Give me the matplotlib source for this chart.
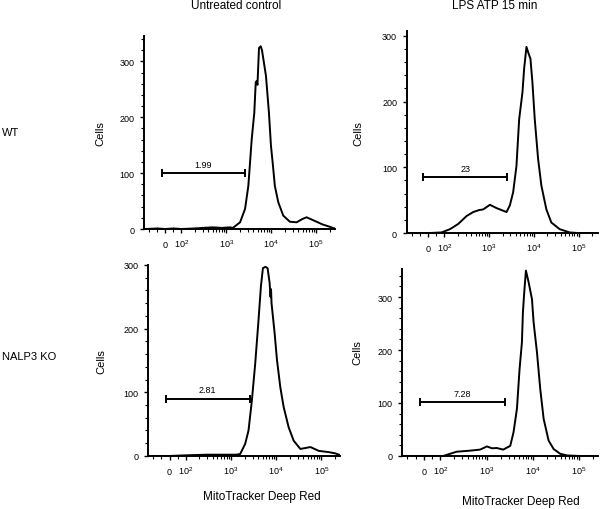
import numpy as np
import matplotlib
matplotlib.use("Agg")
import matplotlib.pyplot as plt
from matplotlib.ticker import FixedLocator, MultipleLocator

plt.rcParams['font.family'] = ['Liberation Sans', 'DejaVu Sans']
plt.rcParams['mathtext.fontset'] = 'custom'
plt.rcParams['mathtext.rm'] = 'Liberation Sans'

# MitoTracker Deep Red histograms (fluorescence, cell count)
wt_ctrl_x = [-120, -50, 0, 50, 100, 200, 300, 500, 800, 1200, 1400, 2030, 2620, 3100, 3690,
             4210, 4530, 4760, 4950, 5360, 5850, 6250, 7660, 8930, 9900, 10800, 12100,
             14400, 18600, 26200, 36900, 50000, 61500, 84900, 141600, 203000, 236000, 262000]
wt_ctrl_y = [0, 1, 0, 1, 0, 1, 2, 3, 2, 3, 2, 12, 36, 77, 161, 208, 262, 265, 258, 324,
             327, 320, 274, 208, 149, 119, 77, 48, 24, 13, 12, 18, 21, 16, 8, 4, 2, 1]

wt_lps_x = [-120, 0, 84, 135, 206, 316, 443, 600, 740, 900, 1042, 1466, 2444, 2900, 3436,
            4074, 4680, 5546, 6040, 6808, 7413, 8356, 9247, 10420, 12360, 14650, 18920,
            24430, 37410, 62500, 100000, 262000]
wt_lps_y = [0, 0, 1, 6, 14, 26, 32, 35, 36, 40, 43, 38, 32, 42, 62, 102, 173, 214, 250,
            283, 275, 265, 229, 173, 113, 72, 36, 16, 6, 1, 0, 0]

ko_ctrl_x = [-120, 0, 100, 300, 600, 1000, 1300, 1596, 2060, 2443, 2897, 3436, 4074, 4592,
             5093, 5741, 6457, 7161, 7500, 7700, 7900, 9247, 10420, 12360, 14650, 18920,
             24430, 34360, 57400, 87900, 146600, 206000, 244000, 262000]
ko_ctrl_y = [0, 0, 1, 2, 2, 2, 2, 3, 19, 40, 87, 145, 214, 266, 295, 297, 295, 272, 250,
            262, 240, 193, 151, 108, 77, 45, 24, 11, 14, 8, 6, 4, 2, 2]

ko_lps_x = [-120, 0, 115, 224, 436, 724, 1014, 1303, 1660, 2291, 3250, 3837, 4540, 5176,
            5820, 6120, 6540, 7110, 8130, 9620, 10440, 12330, 14550, 17220, 22080, 28380,
            39550, 55200, 100000, 262000]
ko_lps_y = [0, 0, 0, 8, 10, 12, 18, 14.5, 15, 12, 19, 45, 89, 164, 214, 271, 309, 350,
            328, 296, 252, 196, 126, 70, 29, 13, 4, 1, 0, 0]

# gates: low, high, height, percent label
gate_lo = [-20, -29, -25, -22]
gate_hi = [2600, 2570, 2580, 2490]
gate_y = [100, 85, 90, 102]
gate_text = ["1.99", "23", "2.81", "7.28"]

col_titles = ["Untreated control", "LPS ATP 15 min"]
row_titles = ["WT", "NALP3 KO"]
x_ticks = [0, 100, 1000, 10000, 100000]
x_ticklabels = ["0", "$10^2$", "$10^3$", "$10^4$", "$10^5$"]
y_ticks = [0, 100, 200, 300]

fig = plt.figure(figsize=(6, 5.1), dpi=100)

panels = [
    ([0.240, 0.549, 0.318, 0.378], wt_ctrl_x, wt_ctrl_y, 345, (-0.20, 0.5)),
    ([0.678, 0.541, 0.318, 0.396], wt_lps_x, wt_lps_y, 307, (-0.23, 0.5)),
    ([0.247, 0.104, 0.320, 0.3745], ko_ctrl_x, ko_ctrl_y, 300, (-0.22, 0.5)),
    ([0.670, 0.104, 0.327, 0.3667], ko_lps_x, ko_lps_y, 353, (-0.20, 0.56)),
]

minor = [-100, -50, 50]
for dec in [100, 1000, 10000, 100000]:
    minor += [k * dec for k in range(2, 10)]

for i, (rect, xs, ys, ytop, lab) in enumerate(panels):
    ax = fig.add_axes(rect)
    ax.set_xscale('symlog', linthresh=100, linscale=0.324)
    ax.plot(xs, ys, color='black', lw=1.4)
    ax.set_xlim(-130, 262144)
    ax.set_ylim(0, ytop)
    ax.spines['top'].set_visible(False)
    ax.spines['right'].set_visible(False)
    ax.spines['left'].set_linewidth(1.4)
    ax.spines['bottom'].set_linewidth(1.4)
    ax.set_xticks(x_ticks)
    ax.set_xticklabels(x_ticklabels, va='baseline')
    ax.xaxis.set_minor_locator(FixedLocator([m for m in minor if m < 262144]))
    ax.set_yticks(y_ticks)
    ax.yaxis.set_minor_locator(MultipleLocator(20))
    ax.tick_params(which='major', length=3, width=1, labelsize=6.5)
    ax.tick_params(axis='x', which='major', pad=10)
    ax.tick_params(axis='y', which='major', pad=4)
    ax.tick_params(which='minor', length=2, width=0.8)
    ax.set_ylabel("Cells", fontsize=8)
    ax.yaxis.set_label_coords(*lab)

    # gate bar with end caps
    lo, hi, gy = gate_lo[i], gate_hi[i], gate_y[i]
    ax.plot([lo, hi], [gy, gy], color='black', lw=1.4)
    ax.plot([lo, hi], [gy, gy], ls='none', marker='|', ms=6, mew=1.4, color='black')
    tr = ax.xaxis.get_transform()
    mid = tr.inverted().transform(np.mean(tr.transform(np.array([lo, hi], float))))
    ax.annotate(gate_text[i], (mid, gy), xytext=(0, 3), textcoords='offset points',
                ha='center', va='bottom', fontsize=6.5)

fig.text(236 / 600, 1 - 6 / 510, col_titles[0], ha='center', va='center', fontsize=8.5)
fig.text(495 / 600, 1 - 6 / 510, col_titles[1], ha='center', va='center', fontsize=8.5)
fig.text(2 / 600, 1 - 133 / 510, row_titles[0], ha='left', va='center', fontsize=8)
fig.text(2 / 600, 1 - 357 / 510, row_titles[1], ha='left', va='center', fontsize=8)
fig.text(262 / 600, 1 - 497 / 510, "MitoTracker Deep Red", ha='center', va='center', fontsize=8.5)
fig.text(521 / 600, 1 - 502 / 510, "MitoTracker Deep Red", ha='center', va='center', fontsize=8.5)

fig.savefig("out.png", dpi=100)
